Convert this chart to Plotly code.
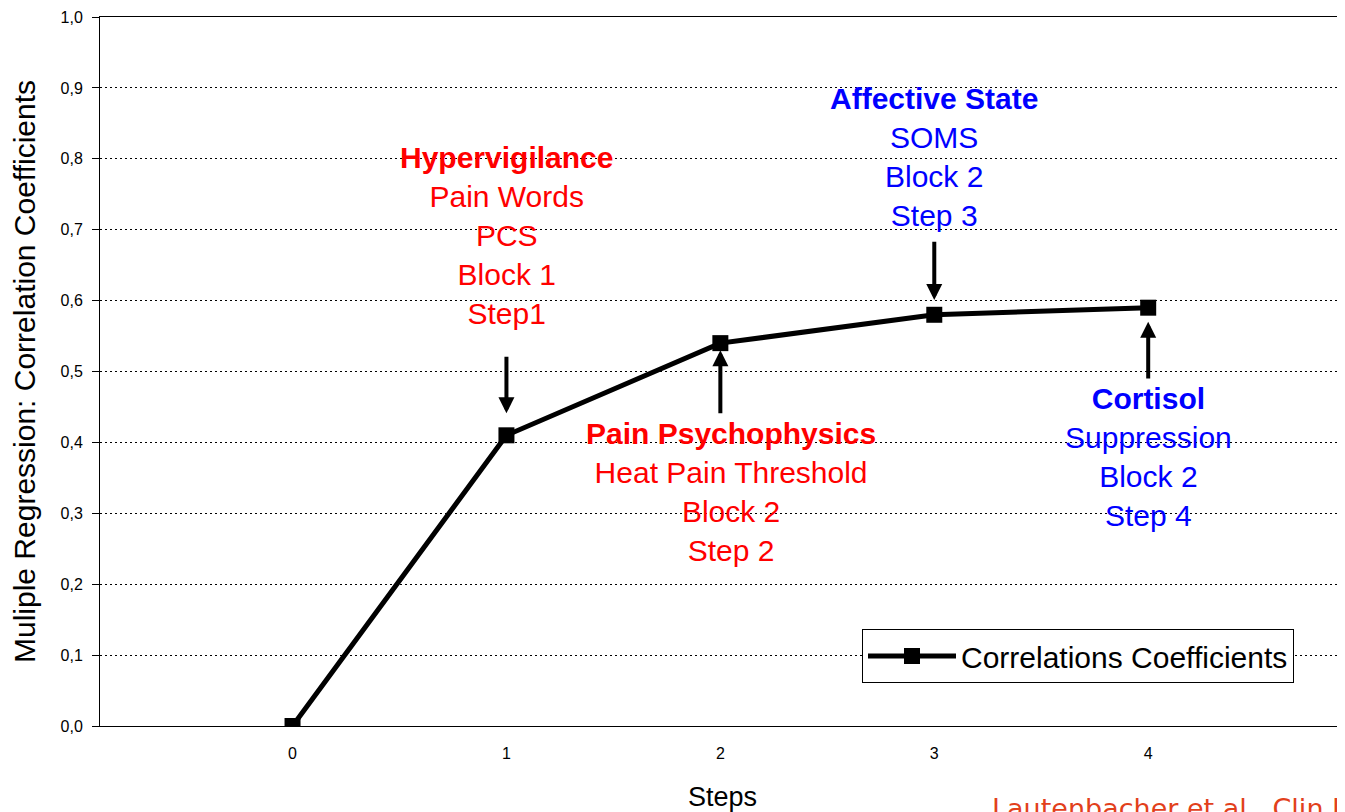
import plotly.graph_objects as go

steps = [0, 1, 2, 3, 4]
coefficients = [0.0, 0.41, 0.54, 0.58, 0.59]
series_name = "Correlations Coefficients"
y_ticks = [0.0, 0.1, 0.2, 0.3, 0.4, 0.5, 0.6, 0.7, 0.8, 0.9, 1.0]

# annotation blocks: (x, text lines, colour, label centre y, arrow head offset, arrow length)
labels = [
    (1.0, ["<b>Hypervigilance</b>", "Pain Words", "PCS", "Block 1", "Step1"], "#FF0000", 0.692, 0.031, 0.082),
    (2.05, ["<b>Pain Psychophysics</b>", "Heat Pain Threshold", "Block 2", "Step 2"], "#FF0000", 0.330, -0.010, -0.091),
    (3.0, ["<b>Affective State</b>", "SOMS", "Block 2", "Step 3"], "#0000FF", 0.803, 0.021, 0.084),
    (4.0, ["<b>Cortisol</b>", "Suppression", "Block 2", "Step 4"], "#0000FF", 0.380, -0.020, -0.082),
]
arrow_steps = [1, 2, 3, 4]

fig = go.Figure()
fig.add_trace(go.Scatter(
    x=steps, y=coefficients, mode="lines+markers", name=series_name,
    line=dict(color="black", width=5),
    marker=dict(symbol="square", size=16, color="black"),
    showlegend=True,
))

annotations = []
for (xpos, lines, color, ycen, off, length), st in zip(labels, arrow_steps):
    annotations.append(dict(
        x=xpos, y=ycen, xref="x", yref="y", text="<br>".join(lines),
        showarrow=False, font=dict(family="Liberation Sans, Arial", size=30, color=color),
        align="center", xanchor="center", yanchor="middle",
    ))
    v = coefficients[steps.index(st)]
    annotations.append(dict(
        x=st, y=v + off, xref="x", yref="y", ax=st, ay=v + off + length,
        axref="x", ayref="y", text="", showarrow=True,
        arrowhead=2, arrowsize=0.8, arrowwidth=4, arrowcolor="black",
    ))

annotations.append(dict(
    x=(990 - 100) / 1245, y=-0.092, xref="paper", yref="paper",
    text="Lautenbacher et al., Clin J Pain", showarrow=False,
    xanchor="left", yanchor="top",
    font=dict(family="DejaVu Sans, Verdana", size=27, color="#E2401B"),
))

fig.update_layout(
    width=1337, height=804,
    margin=dict(l=92, r=0, t=9, b=86),
    paper_bgcolor="white", plot_bgcolor="white",
    separators=",.",
    font=dict(family="Liberation Sans, Arial", color="black"),
    annotations=annotations,
    legend=dict(
        x=(862 - 100) / 1245, y=(726 - 629) / 709, xanchor="left", yanchor="top",
        bgcolor="white", bordercolor="black", borderwidth=1,
        font=dict(family="Liberation Sans, Arial", size=30, color="black"),
        itemwidth=88,
    ),
    xaxis=dict(
        range=[-0.9, 4.92], tickvals=steps, ticktext=[str(s) for s in steps],
        showgrid=False, zeroline=False, showline=True, linecolor="black", linewidth=1,
        mirror=True, ticks="", ticklabelstandoff=13,
        tickfont=dict(family="Liberation Sans, Arial", size=16, color="black"),
        title=dict(text="Steps", font=dict(family="Liberation Sans, Arial", size=27), standoff=40),
        automargin=False,
    ),
    yaxis=dict(
        range=[0, 1.0], tickvals=y_ticks, tickformat=".1f",
        showgrid=True, gridcolor="black", griddash="1.5px,3.5px", gridwidth=1,
        zeroline=False, showline=True, linecolor="black", linewidth=1,
        ticks="outside", ticklen=7, tickcolor="black", ticklabelstandoff=6,
        tickfont=dict(family="Liberation Sans, Arial", size=16, color="black"),
        title=dict(text="Muliple Regression: Correlation Coefficients",
                   font=dict(family="Liberation Sans, Arial", size=30), standoff=18),
        automargin=False,
    ),
)

fig.write_html("out.html")
